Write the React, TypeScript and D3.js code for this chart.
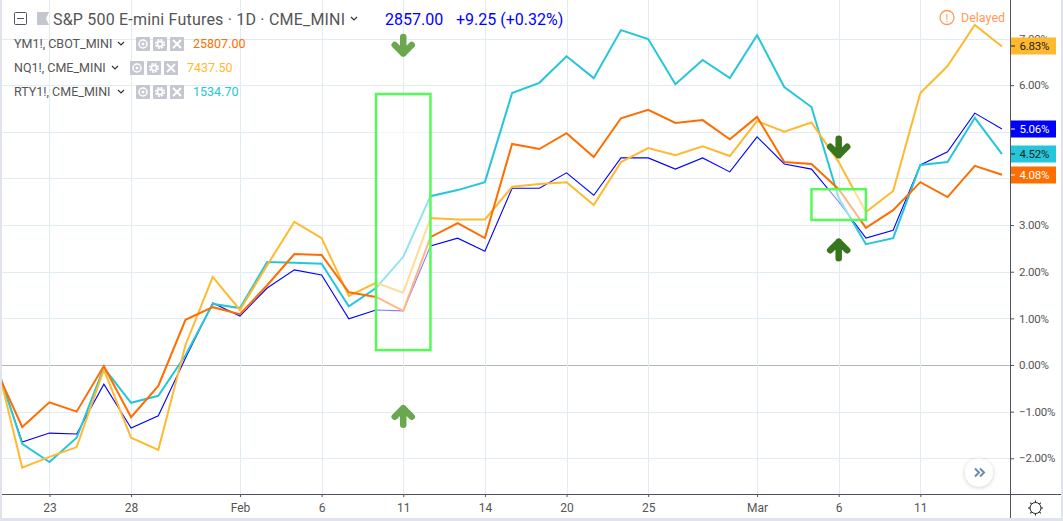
import { useEffect, useRef } from "react";
import * as d3 from "d3";

const days = [
  "Jan 18", "Jan 22", "Jan 23", "Jan 24", "Jan 25", "Jan 28", "Jan 29", "Jan 30", "Jan 31",
  "Feb 1", "Feb 4", "Feb 5", "Feb 6", "Feb 7", "Feb 8", "Feb 11", "Feb 12", "Feb 13", "Feb 14", "Feb 15",
  "Feb 19", "Feb 20", "Feb 21", "Feb 22", "Feb 25", "Feb 26", "Feb 27", "Feb 28",
  "Mar 1", "Mar 4", "Mar 5", "Mar 6", "Mar 7", "Mar 8", "Mar 11", "Mar 12", "Mar 13", "Mar 14",
];

const es = [
  0.05, -1.65, -1.46, -1.48, -0.41, -1.35, -1.09, 0.15, 1.33, 1.05, 1.65, 2.04, 1.93, 0.99, 1.18, 1.16, 2.55, 2.72, 2.44,
  3.79, 3.79, 4.12, 3.64, 4.44, 4.44, 4.2, 4.44, 4.14, 4.89, 4.31, 4.2, 3.5, 2.72, 2.89, 4.29, 4.57, 5.4, 5.06,
];
const ym = [
  -0.05, -1.33, -0.8, -1.0, -0.02, -1.12, -0.45, 0.97, 1.24, 1.09, 1.71, 2.38, 2.36, 1.56, 1.46, 1.16, 2.74, 3.04, 2.72,
  4.74, 4.63, 4.97, 4.46, 5.29, 5.47, 5.19, 5.25, 4.84, 5.32, 4.35, 4.31, 3.77, 2.94, 3.32, 3.92, 3.6, 4.27, 4.08,
];
const nq = [
  0.2, -2.2, -1.97, -1.76, -0.1, -1.56, -1.82, 0.43, 1.89, 1.18, 2.14, 3.07, 2.72, 1.48, 1.76, 1.55, 3.15, 3.12, 3.12,
  3.82, 3.88, 3.92, 3.43, 4.35, 4.65, 4.5, 4.69, 4.48, 5.23, 5.0, 5.2, 4.35, 3.28, 3.73, 5.83, 6.41, 7.29, 6.83,
];
const rty = [
  0.1, -1.69, -2.08, -1.56, -0.06, -0.81, -0.66, 0.21, 1.31, 1.22, 2.21, 2.19, 2.17, 1.26, 1.65, 2.32, 3.62, 3.75, 3.92,
  5.83, 6.05, 6.62, 6.15, 7.18, 6.99, 6.02, 6.54, 6.15, 7.07, 5.96, 5.53, 3.58, 2.59, 2.72, 4.29, 4.35, 5.3, 4.52,
];

const pctTicks = [7, 6, 5, 4, 3, 2, 1, 0, -1, -2];
// 5.00% and 4.00% sit fully behind the last value tags
const hiddenPctLabels = [5, 4];
const dayTicks = ["Jan 23", "Jan 28", "Feb 1", "Feb 6", "Feb 11", "Feb 14", "Feb 20", "Feb 25", "Mar 1", "Mar 6", "Mar 11"];

const legendNames = ["YM1!, CBOT_MINI", "NQ1!, CME_MINI", "RTY1!, CME_MINI"];
const legendValues = ["25807.00", "7437.50", "1534.70"];

const FONT = "Roboto, 'Open Sans', sans-serif";
const BLUE = "#0000ff";
const ORANGE = "#ff6d00";
const YELLOW = "#ffb92e";
const CYAN = "#26c6da";
const TEXT = "#555";
const GRID = "#e1ebf2";
const ICON = "#c5c7d0";

export default function App() {
  const svgRef = useRef<SVGSVGElement>(null);

  useEffect(() => {
    const el = svgRef.current;
    if (!el) return;
    const w = 1063;
    const h = 521;
    const axisX = 1010;
    const axisY = 494;

    const svg = d3.select(el).attr("width", w).attr("height", h).attr("viewBox", `0 0 ${w} ${h}`);
    svg.selectAll("*").remove();
    svg.style("font-family", FONT);

    const x = d3.scalePoint<string>().domain(days).range([-5, 1002]);
    const y = d3.scaleLinear().domain([0, 7]).range([365, 38.5]);

    svg.append("rect").attr("width", w).attr("height", h).attr("fill", "#e0e3eb");
    svg.append("rect").attr("x", 2).attr("width", w - 4).attr("height", h - 3).attr("fill", "#fff");

    svg.append("defs").append("clipPath").attr("id", "plot")
      .append("rect").attr("x", 2).attr("y", 0).attr("width", axisX - 2).attr("height", axisY);

    // Grid
    const grid = svg.append("g").attr("shape-rendering", "crispEdges");
    grid.selectAll("line.h").data(pctTicks).join("line")
      .attr("x1", 2).attr("x2", axisX)
      .attr("y1", (d) => Math.round(y(d)) + 0.5).attr("y2", (d) => Math.round(y(d)) + 0.5)
      .attr("stroke", (d) => (d === 0 ? "#b2b5be" : GRID));
    grid.selectAll("line.v").data(dayTicks).join("line")
      .attr("x1", (d) => Math.round(x(d)!) + 0.5).attr("x2", (d) => Math.round(x(d)!) + 0.5)
      .attr("y1", 0).attr("y2", axisY)
      .attr("stroke", GRID);

    // Series
    const line = d3.line<number>().x((_, i) => x(days[i])!).y((d) => y(d));
    const plot = svg.append("g").attr("clip-path", "url(#plot)");
    const series: [number[], string, number][] = [
      [es, BLUE, 1.1],
      [rty, CYAN, 2],
      [nq, YELLOW, 2],
      [ym, ORANGE, 2],
    ];
    series.forEach(([vals, color, sw]) => {
      plot.append("path").datum(vals).attr("d", line)
        .attr("fill", "none").attr("stroke", color).attr("stroke-width", sw)
        .attr("stroke-linejoin", "miter");
    });

    // Highlight boxes
    const boxes = [
      { from: "Feb 8", to: "Feb 12", top: 5.81, bottom: 0.32 },
      { from: "Mar 5", to: "Mar 7", top: 3.77, bottom: 3.11 },
    ];
    svg.append("g").selectAll("rect").data(boxes).join("rect")
      .attr("x", (d) => x(d.from)!)
      .attr("y", (d) => y(d.top))
      .attr("width", (d) => x(d.to)! - x(d.from)!)
      .attr("height", (d) => y(d.bottom) - y(d.top))
      .attr("fill", "rgba(255,255,255,0.5)")
      .attr("stroke", "#55fb55")
      .attr("stroke-width", 2.5);

    // Arrows
    const arrows = [
      { day: "Feb 11", at: 6.85, dir: 1, color: "#6aa84f" },
      { day: "Feb 11", at: -1.1, dir: -1, color: "#6aa84f" },
      { day: "Mar 6", at: 4.67, dir: 1, color: "#38761d" },
      { day: "Mar 6", at: 2.47, dir: -1, color: "#38761d" },
    ];
    svg.append("g").selectAll("path").data(arrows).join("path")
      .attr("transform", (d) => `translate(${x(d.day)},${y(d.at)}) scale(1,${d.dir})`)
      .attr("d", "M0,-8.5V8M-8.5,-0.5L0,8L8.5,-0.5")
      .attr("fill", "none")
      .attr("stroke", (d) => d.color)
      .attr("stroke-width", 6.5)
      .attr("stroke-linecap", "round")
      .attr("stroke-linejoin", "round");

    // Axes
    const yAxis = d3.axisRight(y).tickValues(pctTicks).tickSize(4).tickPadding(5)
      .tickFormat((d) => (hiddenPctLabels.includes(+d) ? "" : `${(+d).toFixed(2).replace("-", "\u2212")}%`));
    const ya = svg.append("g").attr("transform", `translate(${axisX},0)`).call(yAxis);
    ya.select(".domain").attr("d", `M0.5,0V${h - 3}`).attr("stroke", "#50535e");
    ya.selectAll("line").attr("stroke", "#50535e");
    ya.selectAll("text").attr("fill", TEXT).attr("font-size", 11.5).attr("letter-spacing", -0.2).attr("font-family", FONT);

    const labelOf = (d: string) => {
      const [m, n] = d.split(" ");
      return n === "1" ? m : n;
    };
    const xAxis = d3.axisBottom(x).tickValues(dayTicks).tickSize(3).tickPadding(6).tickFormat(labelOf);
    const xa = svg.append("g").attr("transform", `translate(0,${axisY})`).call(xAxis);
    xa.select(".domain").attr("d", `M2,0.5H${w - 2}`).attr("stroke", "#50535e");
    xa.selectAll("line").attr("stroke", "#50535e");
    xa.selectAll("text").attr("fill", TEXT).attr("font-size", 12).attr("font-family", FONT);

    // Last value tags
    const tags: [number, string, string][] = [
      [nq[nq.length - 1], YELLOW, "#222"],
      [es[es.length - 1], BLUE, "#fff"],
      [rty[rty.length - 1], CYAN, "#222"],
      [ym[ym.length - 1], ORANGE, "#fff"],
    ];
    const tag = svg.append("g").selectAll("g").data(tags).join("g")
      .attr("transform", (d) => `translate(${axisX + 1},${Math.round(y(d[0]))})`);
    tag.append("rect").attr("y", -8.5).attr("width", 45).attr("height", 17).attr("fill", (d) => d[1]);
    tag.append("line").attr("x1", 0).attr("x2", 4).attr("stroke", (d) => d[2]);
    tag.append("text").attr("x", 8.5).attr("dy", "0.35em").attr("font-size", 11.5).attr("letter-spacing", -0.2)
      .attr("fill", (d) => d[2]).text((d) => `${d[0].toFixed(2)}%`);

    // Header
    svg.append("rect").attr("x", 14.5).attr("y", 12.5).attr("width", 12).attr("height", 12)
      .attr("fill", "none").attr("stroke", "#50535e").attr("rx", 1);
    svg.append("line").attr("x1", 17).attr("x2", 24).attr("y1", 18.5).attr("y2", 18.5).attr("stroke", "#50535e");
    svg.append("path").attr("d", "M37,12H49L46,18.5L49,25H37Z").attr("fill", ICON);
    svg.append("text").attr("x", 53).attr("y", 24.5).attr("font-size", 16).attr("letter-spacing", 0.2).attr("fill", TEXT)
      .text("S&P 500 E-mini Futures \u00b7 1D \u00b7 CME_MINI");
    svg.append("path").attr("d", "M351,17L354,20L357,17")
      .attr("fill", "none").attr("stroke", "#333").attr("stroke-width", 1.2);
    svg.append("text").attr("x", 385).attr("y", 24.5).attr("font-size", 16).attr("fill", BLUE).text("2857.00");
    svg.append("text").attr("x", 456).attr("y", 24.5).attr("font-size", 16).attr("fill", BLUE).text("+9.25 (+0.32%)");

    // Legend rows
    const legendColors = [ORANGE, YELLOW, CYAN];
    const nameEnds = [113, 107, 113];
    legendNames.forEach((name, i) => {
      const cy = 44 + i * 24;
      const row = svg.append("g");
      row.append("text").attr("x", 14).attr("y", cy + 4).attr("font-size", 12.5).attr("fill", TEXT).text(name);
      const end = nameEnds[i];
      row.append("path").attr("d", `M${end + 5},${cy - 2}L${end + 8},${cy + 1}L${end + 11},${cy - 2}`)
        .attr("fill", "none").attr("stroke", "#333").attr("stroke-width", 1.2);
      [24, 41, 58].forEach((dx, k) => {
        const bx = end + dx;
        row.append("rect").attr("x", bx - 1).attr("y", cy - 7).attr("width", 14).attr("height", 14).attr("rx", 1).attr("fill", ICON);
        if (k === 2) {
          row.append("path").attr("d", `M${bx + 2},${cy - 4}l8,8m0,-8l-8,8`).attr("stroke", "#fff").attr("stroke-width", 2);
        } else if (k === 0) {
          row.append("circle").attr("cx", bx + 6).attr("cy", cy).attr("r", 4).attr("fill", "none").attr("stroke", "#fff").attr("stroke-width", 1.5);
          row.append("circle").attr("cx", bx + 6).attr("cy", cy).attr("r", 1.5).attr("fill", "#fff");
        } else {
          // gear
          row.append("circle").attr("cx", bx + 6).attr("cy", cy).attr("r", 4.2).attr("fill", "none")
            .attr("stroke", "#fff").attr("stroke-width", 1.6).attr("stroke-dasharray", "2 1.3");
          row.append("circle").attr("cx", bx + 6).attr("cy", cy).attr("r", 2.6).attr("fill", "none")
            .attr("stroke", "#fff").attr("stroke-width", 1.6);
        }
      });
      row.append("text").attr("x", end + 80).attr("y", cy + 4).attr("font-size", 12.5)
        .attr("fill", legendColors[i]).text(legendValues[i]);
    });

    // Delayed badge
    svg.append("circle").attr("cx", 947).attr("cy", 17.5).attr("r", 7).attr("fill", "none")
      .attr("stroke", "#ff9a5c").attr("stroke-width", 1.3);
    svg.append("text").attr("x", 947).attr("y", 21.5).attr("text-anchor", "middle").attr("font-size", 11)
      .attr("fill", "#ff9a5c").text("!");
    svg.append("text").attr("x", 961).attr("y", 22).attr("font-size", 12.5).attr("fill", "#ff9a5c").text("Delayed");

    // Scroll button
    const f = svg.select("defs").append("filter").attr("id", "sh").attr("x", "-40%").attr("y", "-40%").attr("width", "180%").attr("height", "180%");
    f.append("feDropShadow").attr("dx", 0).attr("dy", 1).attr("stdDeviation", 2).attr("flood-color", "#000").attr("flood-opacity", 0.2);
    svg.append("circle").attr("cx", 979).attr("cy", 472.5).attr("r", 14).attr("fill", "#fff").attr("filter", "url(#sh)");
    svg.append("path").attr("d", "M975,468.5L979,472.5L975,476.5M980,468.5L984,472.5L980,476.5")
      .attr("fill", "none").attr("stroke", "#6f8aa8").attr("stroke-width", 2);

    // Settings icon
    svg.append("circle").attr("cx", 1035.5).attr("cy", 508).attr("r", 5.5).attr("fill", "#fff").attr("stroke", "#222").attr("stroke-width", 1);
    svg.append("g").selectAll("line").data(d3.range(8)).join("line")
      .attr("transform", (d) => `translate(1035.5,508) rotate(${d * 45})`)
      .attr("y1", -5.5).attr("y2", -7.5).attr("stroke", "#222");
  }, []);

  return <svg ref={svgRef} style={{ position: "absolute", left: 0, top: 0, display: "block" }} />;
}
